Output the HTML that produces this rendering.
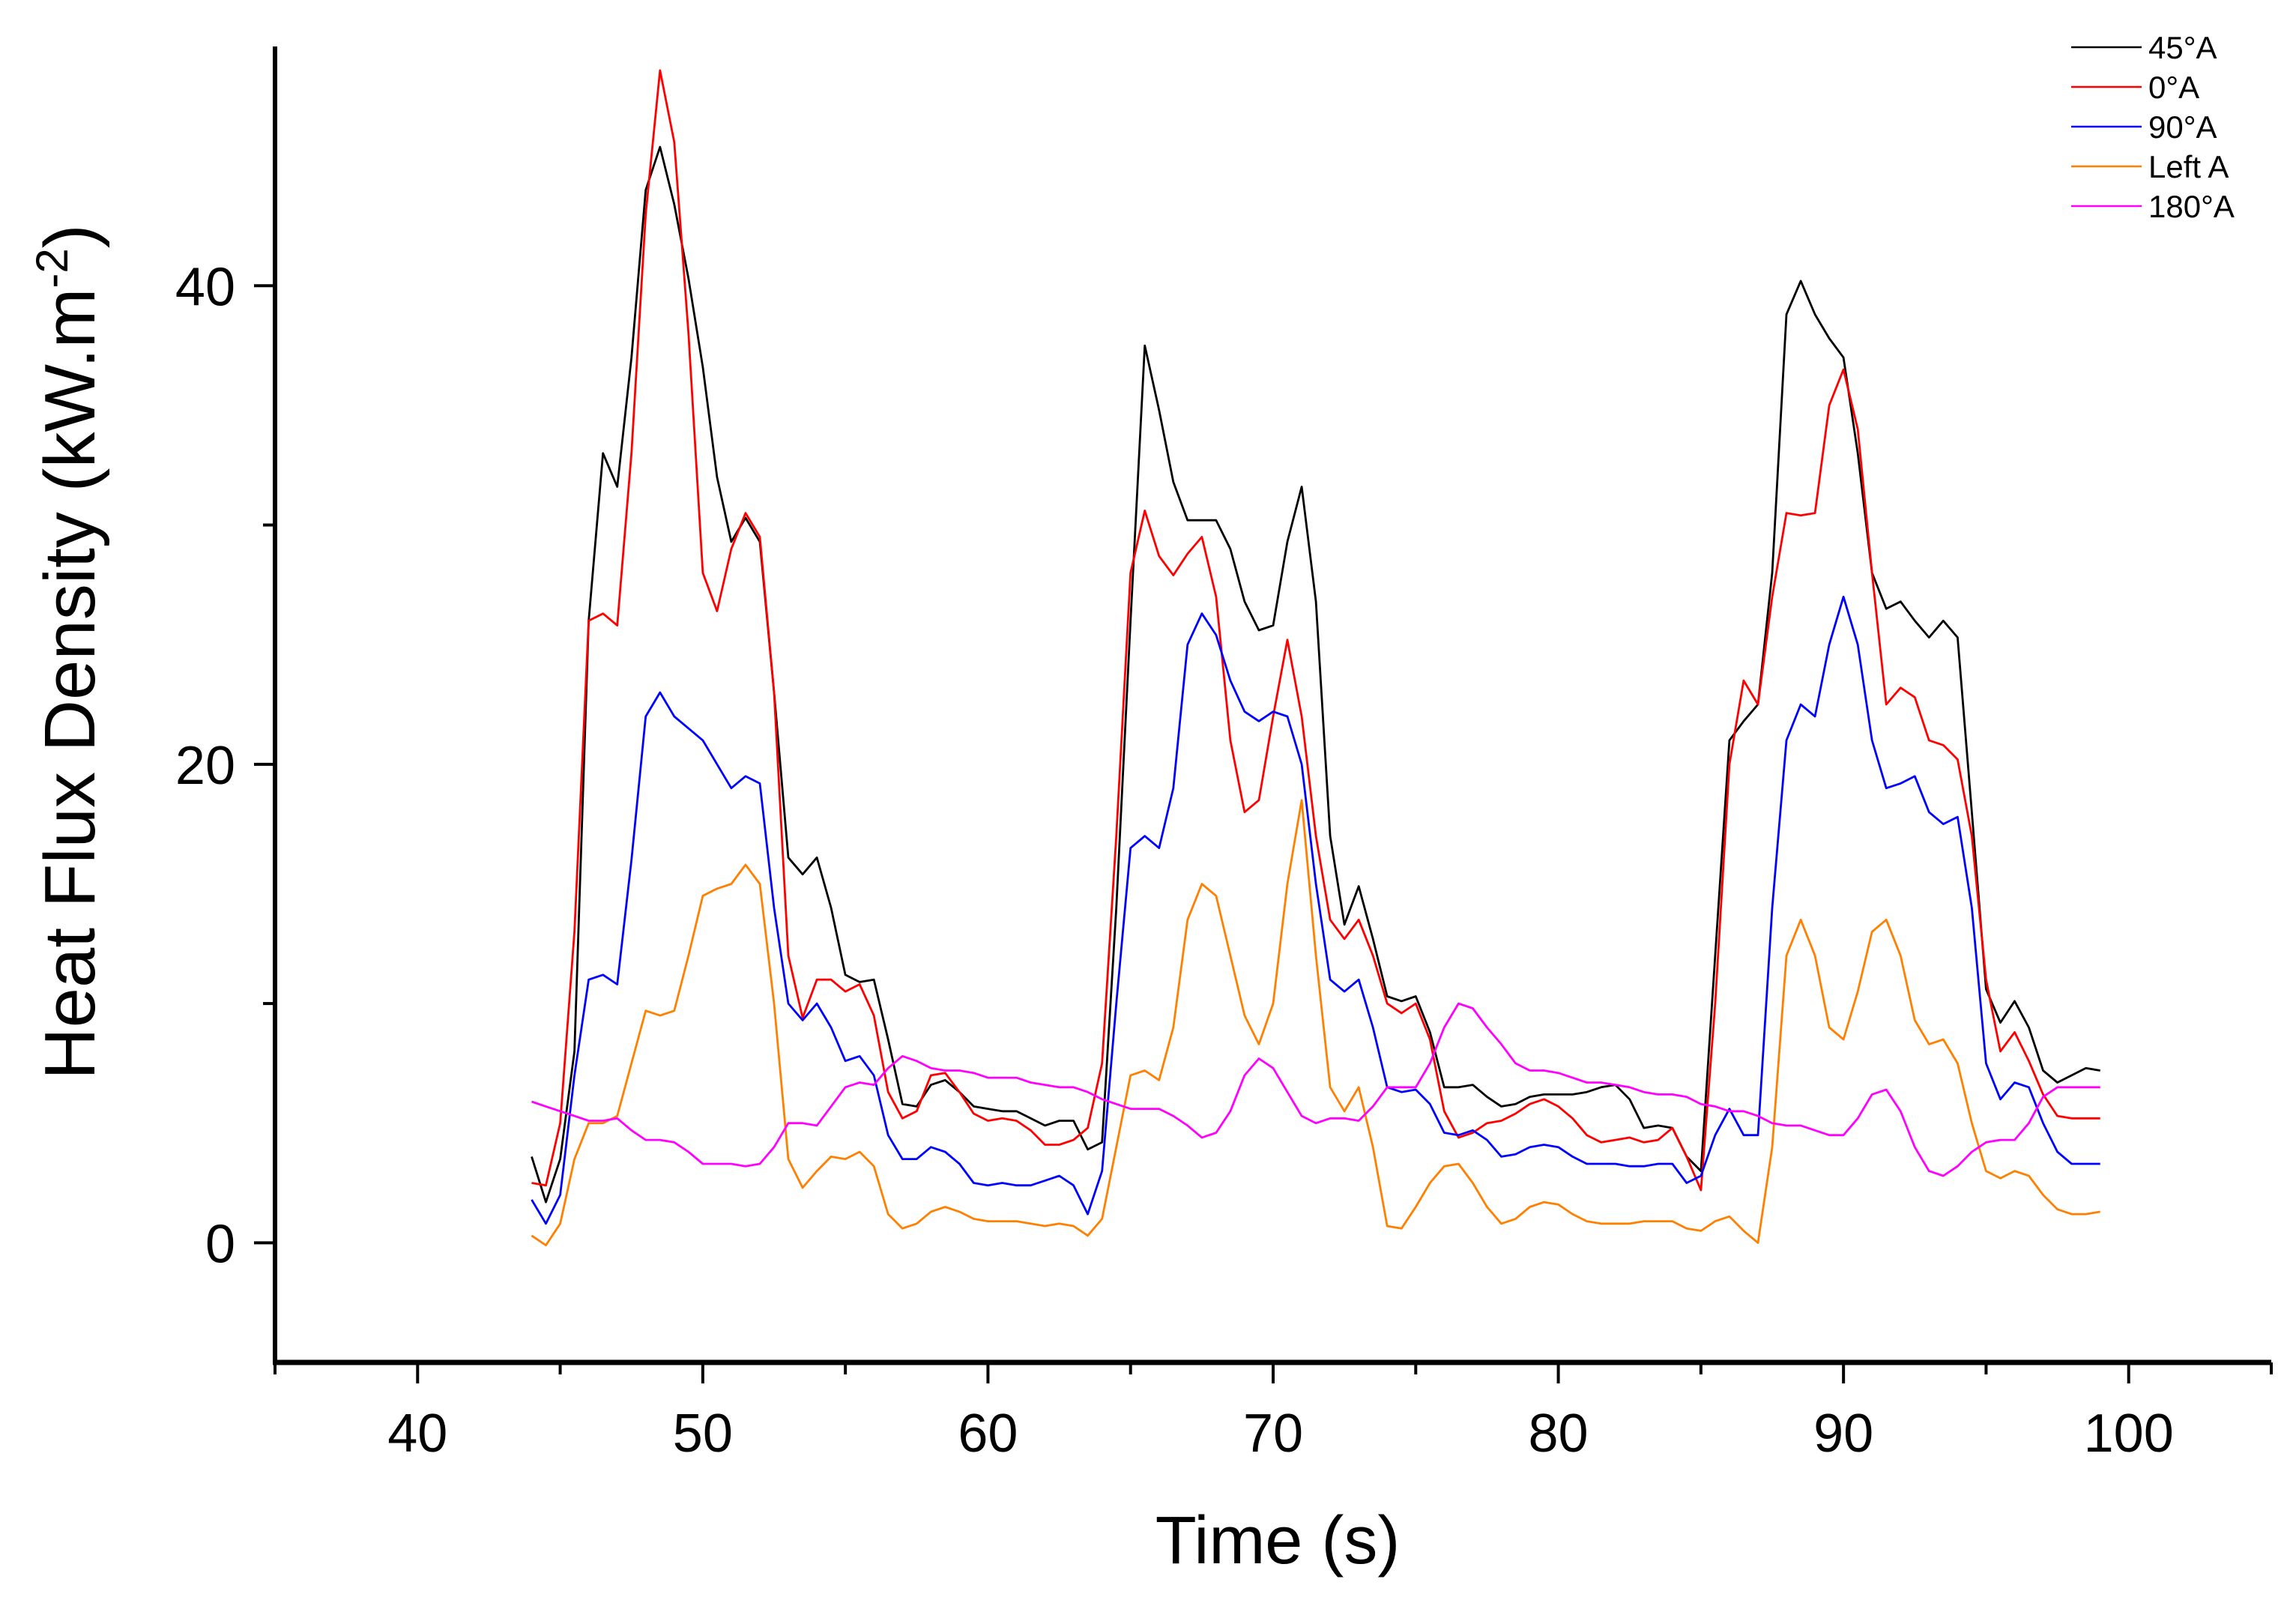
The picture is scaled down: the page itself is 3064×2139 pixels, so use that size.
<!DOCTYPE html>
<html><head><meta charset="utf-8"><style>
html,body{margin:0;padding:0;background:#fff;}
svg{display:block;font-family:"Liberation Sans",Arial,sans-serif;}
</style></head><body>
<svg id="chart" width="3064" height="2139" viewBox="0 0 3064 2139" xmlns="http://www.w3.org/2000/svg">
<rect width="3064" height="2139" fill="#fff"/>
<g id="plot"></g>
<g id="axes"></g>
<text x="1705" y="2086" font-size="90" text-anchor="middle">Time (s)</text>
<text transform="translate(126,870) rotate(-90)" font-size="96" text-anchor="middle">Heat Flux Density (kW.m<tspan dy="-36" font-size="60">-2</tspan><tspan dy="36">)</tspan></text>
<g id="legend"></g>
</svg>
<script>
const times = [
44,44.5,45,45.5,46,46.5,47,47.5,48,48.5,
49,49.5,50,50.5,51,51.5,52,52.5,53,53.5,
54,54.5,55,55.5,56,56.5,57,57.5,58,58.5,
59,59.5,60,60.5,61,61.5,62,62.5,63,63.5,
64,64.5,65,65.5,66,66.5,67,67.5,68,68.5,
69,69.5,70,70.5,71,71.5,72,72.5,73,73.5,
74,74.5,75,75.5,76,76.5,77,77.5,78,78.5,
79,79.5,80,80.5,81,81.5,82,82.5,83,83.5,
84,84.5,85,85.5,86,86.5,87,87.5,88,88.5,
89,89.5,90,90.5,91,91.5,92,92.5,93,93.5,
94,94.5,95,95.5,96,96.5,97,97.5,98,98.5,
99];
const s45 = [
3.6,1.7,3.5,8,26,33,31.6,37,44,45.8,
43.4,40.3,36.6,32,29.3,30.3,29.3,23,16.1,15.4,
16.1,14,11.2,10.9,11,8.5,5.8,5.7,6.6,6.8,
6.3,5.7,5.6,5.5,5.5,5.2,4.9,5.1,5.1,3.9,
4.2,14,26,37.5,34.8,31.8,30.2,30.2,30.2,29,
26.8,25.6,25.8,29.3,31.6,26.8,17,13.3,14.9,12.7,
10.3,10.1,10.3,8.8,6.5,6.5,6.6,6.1,5.7,5.8,
6.1,6.2,6.2,6.2,6.3,6.5,6.6,6,4.8,4.9,
4.8,3.6,3,12,21,21.8,22.5,28,38.8,40.2,
38.8,37.8,37,33,28,26.5,26.8,26,25.3,26,
25.3,18,10.6,9.2,10.1,9,7.2,6.7,7,7.3,
7.2];
const s0 = [
2.5,2.4,5,13,26,26.3,25.8,33,43,49,
46,38,28,26.4,29,30.5,29.5,23,12,9.4,
11,11,10.5,10.8,9.5,6.3,5.2,5.5,7,7.1,
6.3,5.4,5.1,5.2,5.1,4.7,4.1,4.1,4.3,4.8,
7.5,17,28,30.6,28.7,27.9,28.8,29.5,27,21,
18,18.5,22,25.2,22,17,13.5,12.7,13.5,12,
10,9.6,10,8.5,5.5,4.4,4.6,5,5.1,5.4,
5.8,6,5.7,5.2,4.5,4.2,4.3,4.4,4.2,4.3,
4.8,3.6,2.2,10,20,23.5,22.5,27,30.5,30.4,
30.5,35,36.5,34,28,22.5,23.2,22.8,21,20.8,
20.2,17,11,8,8.8,7.6,6.2,5.3,5.2,5.2,
5.2];
const s90 = [
1.8,0.8,2,7,11,11.2,10.8,16,22,23,
22,21.5,21,20,19,19.5,19.2,14,10,9.3,
10,9,7.6,7.8,7,4.5,3.5,3.5,4,3.8,
3.3,2.5,2.4,2.5,2.4,2.4,2.6,2.8,2.4,1.2,
3,10,16.5,17,16.5,19,25,26.3,25.4,23.5,
22.2,21.8,22.2,22,20,15,11,10.5,11,9,
6.5,6.3,6.4,5.8,4.6,4.5,4.7,4.3,3.6,3.7,
4,4.1,4,3.6,3.3,3.3,3.3,3.2,3.2,3.3,
3.3,2.5,2.8,4.5,5.6,4.5,4.5,14,21,22.5,
22,25,27,25,21,19,19.2,19.5,18,17.5,
17.8,14,7.5,6,6.7,6.5,5,3.8,3.3,3.3,
3.3];
const sLeft = [
0.3,-0.1,0.8,3.5,5,5,5.3,7.5,9.7,9.5,
9.7,12,14.5,14.8,15,15.8,15,10,3.5,2.3,
3,3.6,3.5,3.8,3.2,1.2,0.6,0.8,1.3,1.5,
1.3,1,0.9,0.9,0.9,0.8,0.7,0.8,0.7,0.3,
1,4,7,7.2,6.8,9,13.5,15,14.5,12,
9.5,8.3,10,15,18.5,12,6.5,5.5,6.5,4,
0.7,0.6,1.5,2.5,3.2,3.3,2.5,1.5,0.8,1,
1.5,1.7,1.6,1.2,0.9,0.8,0.8,0.8,0.9,0.9,
0.9,0.6,0.5,0.9,1.1,0.5,0,4,12,13.5,
12,9,8.5,10.5,13,13.5,12,9.3,8.3,8.5,
7.5,5,3,2.7,3,2.8,2,1.4,1.2,1.2,
1.3];
const s180 = [
5.9,5.7,5.5,5.3,5.1,5.1,5.2,4.7,4.3,4.3,
4.2,3.8,3.3,3.3,3.3,3.2,3.3,4,5,5,
4.9,5.7,6.5,6.7,6.6,7.3,7.8,7.6,7.3,7.2,
7.2,7.1,6.9,6.9,6.9,6.7,6.6,6.5,6.5,6.3,
6,5.8,5.6,5.6,5.6,5.3,4.9,4.4,4.6,5.5,
7,7.7,7.3,6.3,5.3,5,5.2,5.2,5.1,5.7,
6.5,6.5,6.5,7.5,9,10,9.8,9,8.3,7.5,
7.2,7.2,7.1,6.9,6.7,6.7,6.6,6.5,6.3,6.2,
6.2,6.1,5.8,5.7,5.5,5.5,5.3,5,4.9,4.9,
4.7,4.5,4.5,5.2,6.2,6.4,5.5,4,3,2.8,
3.2,3.8,4.2,4.3,4.3,5,6.1,6.5,6.5,6.5,
6.5];
const seriesNames = ["45°A","0°A","90°A","Left A","180°A"];
const seriesColors = ["#000000","#ff0000","#0000ff","#ff8000","#ff00ff"];
const xTicks = [40,50,60,70,80,90,100];
const yTicks = [0,20,40];

const NS = "http://www.w3.org/2000/svg";
const X0=367, X1=3031, Y0=1818, Y1=62;
const xMin=35, xMax=105, yMin=-5, yMax=50;
function xs(t){return X0+(t-xMin)/(xMax-xMin)*(X1-X0);}
function ys(v){return Y0-(v-yMin)/(yMax-yMin)*(Y0-Y1);}
function mk(tag,attrs,parent){const e=document.createElementNS(NS,tag);for(const k in attrs)e.setAttribute(k,attrs[k]);parent.appendChild(e);return e;}

const plot=document.getElementById('plot');
const allSeries=[s45,s0,s90,sLeft,s180];
const seriesKeys=["series-45a","series-0a","series-90a","series-left-a","series-180a"];
allSeries.forEach((arr,i)=>{
  const d=arr.map((v,j)=>(j?'L':'M')+xs(times[j]).toFixed(1)+' '+ys(v).toFixed(1)).join(' ');
  const p=mk('path',{d:d,fill:'none',stroke:seriesColors[i],'stroke-width':2.8,'stroke-linejoin':'round'},plot);
  
  
});

const axes=document.getElementById('axes');
const ya=mk('line',{x1:X0,y1:Y1,x2:X0,y2:Y0+3,stroke:'#000','stroke-width':6},axes);


const xa=mk('line',{x1:X0-3,y1:Y0,x2:X1,y2:Y0,stroke:'#000','stroke-width':7},axes);


for(let t=xMin;t<=xMax;t+=5){
  const major=xTicks.includes(t);
  const tk=mk('line',{x1:xs(t),y1:Y0,x2:xs(t),y2:Y0+(major?28:16),stroke:'#000','stroke-width':4},axes);
  
  
}
xTicks.forEach(t=>{
  const tx=mk('text',{x:xs(t),y:1937,'font-size':72,'text-anchor':'middle'},axes);
  tx.textContent=t;
  
  
});
[0,10,20,30,40].forEach(v=>{
  const major=yTicks.includes(v);
  const tk=mk('line',{x1:X0,y1:ys(v),x2:X0-(major?28:16),y2:ys(v),stroke:'#000','stroke-width':4},axes);
  
  
});
yTicks.forEach(v=>{
  const tx=mk('text',{x:314,y:ys(v)+26,'font-size':72,'text-anchor':'end'},axes);
  tx.textContent=v;
  
  
});

const lg=document.getElementById('legend');
seriesNames.forEach((n,i)=>{
  const y=63+i*53;
  const g=mk('g',{},lg);
  
  
  mk('line',{x1:2764,y1:y,x2:2858,y2:y,stroke:seriesColors[i],'stroke-width':2.6},g);
  const t=mk('text',{x:2867,y:y+15,'font-size':42},g);
  t.textContent=n;
});
</script>
</body></html>
